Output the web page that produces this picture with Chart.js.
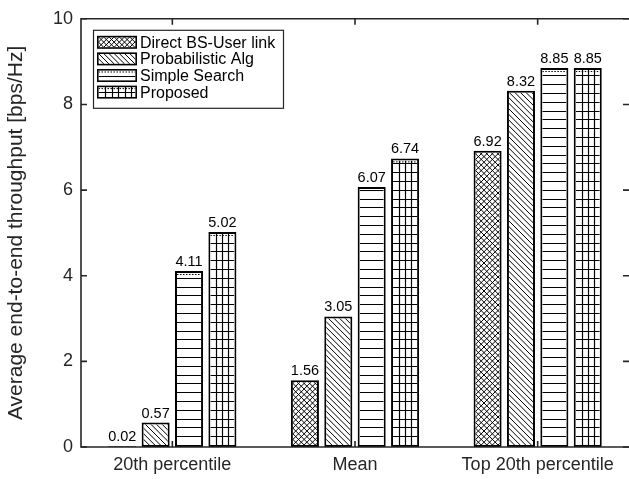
<!DOCTYPE html>
<html>
<head>
<meta charset="utf-8">
<style>
  html, body { margin: 0; padding: 0; background: #fff; }
  canvas { display: block; }
</style>
<script src="https://cdn.jsdelivr.net/npm/chart.js@4/dist/chart.umd.min.js"></script>
</head>
<body>
<canvas id="c" width="629" height="479"></canvas>
<script>
// Throughput per scheme, grouped by statistic
const categories = ['20th percentile', 'Mean', 'Top 20th percentile'];
const seriesNames = ['Direct BS-User link', 'Probabilistic Alg', 'Simple Search', 'Proposed'];
const directVals = [0.02, 1.56, 6.92];
const probVals = [0.57, 3.05, 8.32];
const simpleVals = [4.11, 6.07, 8.85];
const proposedVals = [5.02, 6.74, 8.85];
const yTicks = [0, 2, 4, 6, 8, 10];
const yTitle = 'Average end-to-end throughput [bps/Hz]';

const FONT = '"Liberation Sans", Arial, Helvetica, sans-serif';
const AXIS_COLOR = '#262626';
const hatchKinds = ['cross', 'back', 'horiz', 'grid'];

// Black line hatching inside a rectangle, anchored at its bottom-left corner
function drawHatch(ctx, l, t, r, b, kind, opt) {
  const W = r - l, H = b - t;
  if (W <= 0 || H <= 0) return;
  ctx.save();
  ctx.beginPath();
  ctx.rect(l, t, W, H);
  ctx.clip();
  ctx.strokeStyle = '#000';
  ctx.beginPath();
  if (kind === 'cross' || kind === 'back') {
    ctx.lineWidth = 1;
    const s = opt.diag;
    const span = H + W;
    const k0 = -Math.ceil(span / s) - 1, k1 = Math.ceil((span + W) / s) + 1;
    for (let k = k0; k <= k1; k++) {
      const x0 = l + k * s;
      ctx.moveTo(x0, b); ctx.lineTo(x0 - span, b - span);
      if (kind === 'cross') { ctx.moveTo(x0, b); ctx.lineTo(x0 + span, b - span); }
    }
    ctx.stroke();
  } else {
    ctx.lineWidth = 1.2;
    for (let y = b - opt.sy; y > t + 0.5; y -= opt.sy) {
      ctx.moveTo(l, Math.round(y) + 0.5); ctx.lineTo(r, Math.round(y) + 0.5);
    }
    if (kind === 'grid') {
      const sx = opt.sx || W / 4;
      for (let x = l + sx; x < r - 1; x += sx) {
        ctx.moveTo(Math.round(x) + 0.5, t); ctx.lineTo(Math.round(x) + 0.5, b);
      }
    }
    ctx.stroke();
    // dotted inner edge along the top
    ctx.beginPath();
    ctx.setLineDash([1.5, 1.5]);
    ctx.lineWidth = 1;
    ctx.moveTo(l, t + 1.5); ctx.lineTo(r, t + 1.5);
    ctx.stroke();
  }
  ctx.restore();
}

const hatchPlugin = {
  id: 'hatchBars',
  afterDatasetsDraw(chart) {
    const ctx = chart.ctx;
    chart.data.datasets.forEach((ds, di) => {
      const meta = chart.getDatasetMeta(di);
      meta.data.forEach(el => {
        const p = el.getProps(['x', 'y', 'base', 'width'], true);
        const bw = ds.borderWidth;
        const l = p.x - p.width / 2 + bw, r = p.x + p.width / 2 - bw;
        const t = Math.min(p.y, p.base) + bw, b = Math.max(p.y, p.base) - bw;
        drawHatch(ctx, l, t, r, b, ds.hatch, { diag: 5.6, sy: 8.8 });
      });
    });
  }
};

const framePlugin = {
  id: 'frameAndLabels',
  afterDatasetsDraw(chart) {
    const ctx = chart.ctx;
    const ca = chart.chartArea;
    const xs = chart.scales.x, ys = chart.scales.y;

    // value labels above every bar
    ctx.save();
    ctx.fillStyle = '#000';
    ctx.font = '14.5px ' + FONT;
    ctx.textAlign = 'center';
    ctx.textBaseline = 'alphabetic';
    chart.data.datasets.forEach((ds, di) => {
      chart.getDatasetMeta(di).data.forEach((el, i) => {
        const p = el.getProps(['x', 'y'], true);
        ctx.fillText(ds.data[i].toFixed(2), p.x, p.y - 5);
      });
    });
    ctx.restore();

    // axes box (right edge falls at the canvas edge) with inward ticks
    ctx.save();
    ctx.strokeStyle = AXIS_COLOR;
    ctx.lineWidth = 1.6;
    ctx.beginPath();
    ctx.moveTo(ca.right + 2, ca.top); ctx.lineTo(ca.left, ca.top);
    ctx.lineTo(ca.left, ca.bottom); ctx.lineTo(ca.right + 2, ca.bottom);
    ctx.stroke();
    ctx.beginPath();
    const tl = 6;
    yTicks.forEach(v => {
      const y = ys.getPixelForValue(v);
      ctx.moveTo(ca.left, y); ctx.lineTo(ca.left + tl, y);
      ctx.moveTo(ca.right, y); ctx.lineTo(ca.right - tl, y);
    });
    categories.forEach((c, i) => {
      const x = xs.getPixelForValue(i);
      ctx.moveTo(x, ca.bottom); ctx.lineTo(x, ca.bottom - tl);
      ctx.moveTo(x, ca.top); ctx.lineTo(x, ca.top + tl);
    });
    ctx.stroke();
    ctx.restore();

    // legend box in the upper-left corner
    ctx.save();
    const lx = ca.left + 12, ly = ca.top + 11, lw = 190, lh = 78;
    ctx.fillStyle = '#fff';
    ctx.fillRect(lx, ly, lw, lh);
    ctx.strokeStyle = AXIS_COLOR;
    ctx.lineWidth = 1.2;
    ctx.strokeRect(lx + 0.5, ly + 0.5, lw, lh);
    seriesNames.forEach((name, i) => {
      const sx = lx + 4, sy = ly + 6 + i * 16.6, sw = 40, sh = 13;
      ctx.fillStyle = '#fff';
      ctx.fillRect(sx, sy, sw, sh);
      drawHatch(ctx, sx + 1.5, sy + 1.5, sx + sw - 1.5, sy + sh - 1.5, hatchKinds[i],
        { diag: 5.2, sy: 5, sx: 6.6 });
      ctx.strokeStyle = '#000';
      ctx.lineWidth = 1.6;
      ctx.strokeRect(sx + 0.8, sy + 0.8, sw - 1.6, sh - 1.6);
      ctx.fillStyle = '#000';
      ctx.font = '16px ' + FONT;
      ctx.textAlign = 'left';
      ctx.textBaseline = 'middle';
      ctx.fillText(name, sx + sw + 3, sy + sh / 2 + 1);
    });
    ctx.restore();
  }
};

const seriesData = [directVals, probVals, simpleVals, proposedVals];

new Chart(document.getElementById('c'), {
  type: 'bar',
  data: {
    labels: categories,
    datasets: seriesNames.map((name, i) => ({
      label: name,
      data: seriesData[i],
      hatch: hatchKinds[i],
      backgroundColor: '#fff',
      borderColor: '#000',
      borderWidth: 2,
      borderSkipped: false,
      categoryPercentage: 0.731,
      barPercentage: 0.84
    }))
  },
  options: {
    responsive: false,
    animation: false,
    devicePixelRatio: 1,
    layout: { padding: { top: 13, right: 0, left: 0, bottom: 0 } },
    plugins: { legend: { display: false }, tooltip: { enabled: false } },
    scales: {
      x: {
        grid: { display: false, drawTicks: false },
        border: { display: false },
        ticks: { color: AXIS_COLOR, font: { family: FONT, size: 18 }, padding: 7, maxRotation: 0 },
        afterFit(s) { s.height = 32; }
      },
      y: {
        min: 0, max: 10,
        grid: { display: false, drawTicks: false },
        border: { display: false },
        afterBuildTicks(s) { s.ticks = yTicks.map(v => ({ value: v })); },
        ticks: { color: AXIS_COLOR, font: { family: FONT, size: 18 }, padding: 8 },
        title: {
          display: true, text: yTitle, color: AXIS_COLOR,
          font: { family: FONT, size: 21 }, padding: { top: 4, bottom: 0 }
        },
        afterFit(s) { s.width = 81; }
      }
    }
  },
  plugins: [hatchPlugin, framePlugin]
});
</script>
</body>
</html>
